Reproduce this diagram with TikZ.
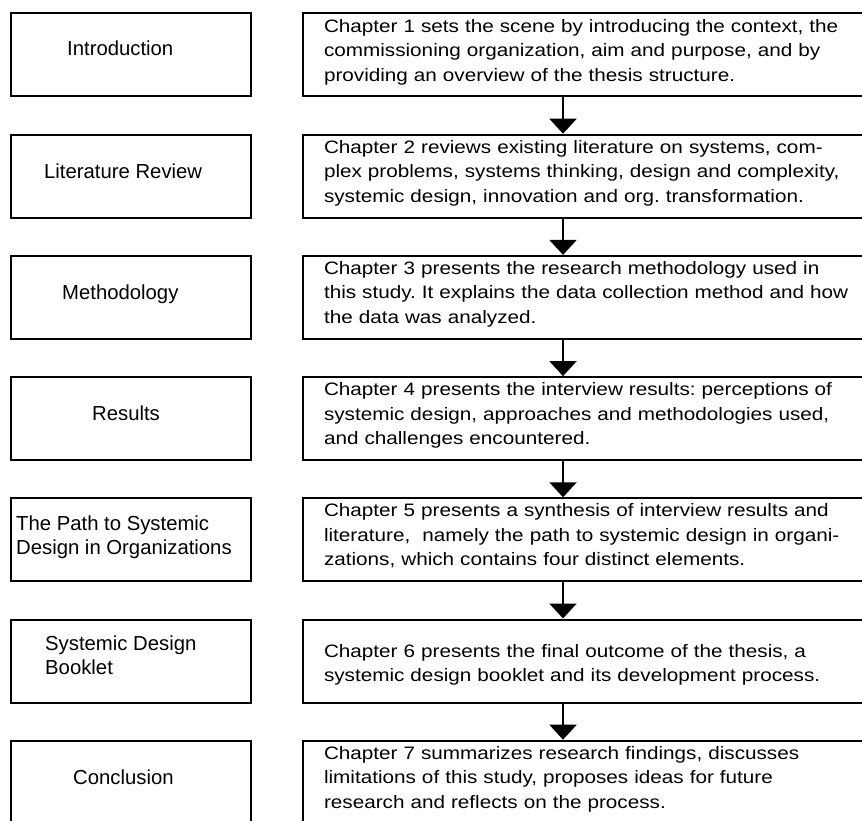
\documentclass[tikz,border=0pt]{standalone}
\usepackage{fontspec}
\setmainfont{Liberation Sans}
\newfontfamily\chapfont[FakeStretch=1.15]{Liberation Sans}
\usetikzlibrary{arrows.meta}
\frenchspacing
\newcommand{\lines}[1]{\begin{tabular}[t]{@{}l@{}}#1\end{tabular}}
% deepens the last line so the text sits a little above the box centre
\newcommand{\chapend}{\rule[-10pt]{0pt}{10pt}}
% raises the first line so a two-line text sits a little lower
\newcommand{\chaptop}{\rule{0pt}{21pt}}
\begin{document}
\begin{tikzpicture}[x=1pt,y=-1pt,
  chapbox/.style={draw, line width=2pt, anchor=north west, minimum height=83pt,
    text width=560pt, inner xsep=21pt, inner ysep=0pt, align=left,
    font=\chapfont\fontsize{18}{24.5}\selectfont},
  partbox/.style={draw, line width=2pt, anchor=north west, minimum width=240pt,
    minimum height=83pt, inner sep=0pt},
  parttext/.style={anchor=base west, inner sep=0pt,
    font=\fontsize{20.3}{24.8}\selectfont},
  flow/.style={line width=2.2pt, -{Triangle[width=27pt,length=15pt]}}
]
\clip (0,0) rectangle (862,821);
\fill[white] (0,0) rectangle (862,821);

% chapter boxes on the left
\node[partbox] (p1) at (10,12.5) {};
\node[partbox] (p2) at (10,133.7) {};
\node[partbox] (p3) at (10,254.9) {};
\node[partbox] (p4) at (10,376.1) {};
\node[partbox] (p5) at (10,497.3) {};
\node[partbox] (p6) at (10,618.5) {};
\node[partbox] (p7) at (10,739.7) {};

\node[parttext] (t1) at (67,56) {Introduction};
\node[parttext] (t2) at (44,178.3) {Literature Review};
\node[parttext] (t3) at (62,299) {Methodology};
\node[parttext] (t4) at (92,420.7) {Results};
\node[parttext] (t5) at (16,530) {\lines{The Path to Systemic\\Design in Organizations}};
\node[parttext] (t6) at (45,650) {\lines{Systemic Design\\Booklet}};
\node[parttext] (t7) at (73,784) {Conclusion};

% chapter summaries on the right
\node[chapbox] (c1) at (302,12.5) {Chapter 1 sets the scene by introducing the context, the\\commissioning organization, aim and purpose, and by\\providing an overview of the thesis structure.\chapend};
\node[chapbox] (c2) at (302,133.7) {Chapter 2 reviews existing literature on systems, com-\\plex problems, systems thinking, design and complexity,\\systemic design, innovation and org. transformation.\chapend};
\node[chapbox] (c3) at (302,254.9) {Chapter 3 presents the research methodology used in\\this study. It explains the data collection method and how\\the data was analyzed.\chapend};
\node[chapbox] (c4) at (302,376.1) {Chapter 4 presents the interview results: perceptions of\\systemic design, approaches and methodologies used,\\and challenges encountered.\chapend};
\node[chapbox] (c5) at (302,497.3) {Chapter 5 presents a synthesis of interview results and\\literature,~ namely the path to systemic design in organi-\\zations, which contains four distinct elements.\chapend};
\node[chapbox] (c6) at (302,618.5) {\chaptop Chapter 6 presents the final outcome of the thesis, a\\systemic design booklet and its development process.};
\node[chapbox] (c7) at (302,739.7) {Chapter 7 summarizes research findings, discusses\\limitations of this study, proposes ideas for future\\research and reflects on the process.\chapend};

% flow between the summaries
\coordinate (ax) at (563,0);
\draw[flow] (c1.south -| ax) -- (c2.north -| ax);
\draw[flow] (c2.south -| ax) -- (c3.north -| ax);
\draw[flow] (c3.south -| ax) -- (c4.north -| ax);
\draw[flow] (c4.south -| ax) -- (c5.north -| ax);
\draw[flow] (c5.south -| ax) -- (c6.north -| ax);
\draw[flow] (c6.south -| ax) -- (c7.north -| ax);
\end{tikzpicture}
\end{document}
